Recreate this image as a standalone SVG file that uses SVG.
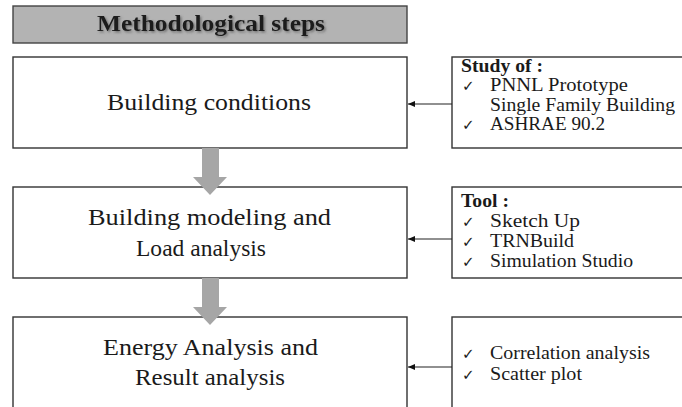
<svg xmlns="http://www.w3.org/2000/svg" width="682" height="407" viewBox="0 0 682 407">
<style>
.box{fill:#fff;stroke:#333;stroke-width:1.4}
.title{fill:#b3b3b3;stroke:#444;stroke-width:1.4}
.main{font-family:"Liberation Serif","DejaVu Serif",serif;font-size:23px;fill:#1a1a1a}
.side{font-family:"Liberation Serif","DejaVu Serif",serif;font-size:18.5px;fill:#1a1a1a}
.bold{font-weight:bold}
.chk{font-family:"DejaVu Sans",sans-serif;font-size:15px;fill:#1a1a1a}
.conn{stroke:#222;stroke-width:1.2;fill:none}
.block{fill:#a6a6a6}
</style>
<defs>
<marker id="ah" markerWidth="8" markerHeight="8" refX="7" refY="3" orient="auto" markerUnits="userSpaceOnUse">
<path d="M0,0 L7,3 L0,6 Z" fill="#111"/>
</marker>
<filter id="sh" x="-5%" y="-20%" width="110%" height="150%">
<feDropShadow dx="1.5" dy="1.5" stdDeviation="1" flood-color="#555" flood-opacity="0.7"/>
</filter>
</defs>

<g id="title">
<rect class="title" x="13" y="6" width="394" height="37"/>
<text class="main bold" x="211" y="31" text-anchor="middle" font-size="21" textLength="228" lengthAdjust="spacingAndGlyphs" filter="url(#sh)">Methodological steps</text>
</g>

<g id="step1">
<rect class="box" x="13" y="57" width="394" height="91"/>
<text class="main" x="107" y="110" textLength="204" lengthAdjust="spacingAndGlyphs">Building conditions</text>
</g>

<g id="step2">
<rect class="box" x="13" y="187" width="394" height="91"/>
<text class="main" x="88" y="225" textLength="243" lengthAdjust="spacingAndGlyphs">Building modeling and</text>
<text class="main" x="136" y="256" textLength="130" lengthAdjust="spacingAndGlyphs">Load analysis</text>
</g>

<g id="step3">
<rect class="box" x="13" y="317" width="394" height="100"/>
<text class="main" x="103" y="355" textLength="215" lengthAdjust="spacingAndGlyphs">Energy Analysis and</text>
<text class="main" x="135" y="385" textLength="150" lengthAdjust="spacingAndGlyphs">Result analysis</text>
</g>

<g id="info1">
<rect class="box" x="452" y="57" width="240" height="91"/>
<text class="side bold" x="461" y="72" textLength="82" lengthAdjust="spacingAndGlyphs">Study of :</text>
<text class="chk" x="462" y="91">✓</text>
<text class="side" x="490" y="91" textLength="138" lengthAdjust="spacingAndGlyphs">PNNL Prototype</text>
<text class="side" x="490" y="111" textLength="185" lengthAdjust="spacingAndGlyphs">Single Family Building</text>
<text class="chk" x="462" y="130">✓</text>
<text class="side" x="490" y="130" textLength="115" lengthAdjust="spacingAndGlyphs">ASHRAE 90.2</text>
</g>

<g id="info2">
<rect class="box" x="452" y="187" width="240" height="91"/>
<text class="side bold" x="461" y="207" textLength="48" lengthAdjust="spacingAndGlyphs">Tool :</text>
<text class="chk" x="462" y="227">✓</text>
<text class="side" x="490" y="227" textLength="90" lengthAdjust="spacingAndGlyphs">Sketch Up</text>
<text class="chk" x="462" y="247">✓</text>
<text class="side" x="490" y="247" textLength="84" lengthAdjust="spacingAndGlyphs">TRNBuild</text>
<text class="chk" x="462" y="267">✓</text>
<text class="side" x="490" y="267" textLength="143" lengthAdjust="spacingAndGlyphs">Simulation Studio</text>
</g>

<g id="info3">
<rect class="box" x="452" y="317" width="240" height="100"/>
<text class="chk" x="462" y="359">✓</text>
<text class="side" x="490" y="359" textLength="160" lengthAdjust="spacingAndGlyphs">Correlation analysis</text>
<text class="chk" x="462" y="380">✓</text>
<text class="side" x="490" y="380" textLength="92" lengthAdjust="spacingAndGlyphs">Scatter plot</text>
</g>

<g id="connectors">
<line class="conn" x1="452" y1="104" x2="408" y2="104" marker-end="url(#ah)"/>
<line class="conn" x1="452" y1="239" x2="408" y2="239" marker-end="url(#ah)"/>
<line class="conn" x1="452" y1="367" x2="408" y2="367" marker-end="url(#ah)"/>
<path class="block" d="M202,148 H219 V177 H227 L210,195 L193,177 H202 Z"/>
<path class="block" d="M202,278 H219 V307 H227 L210,325 L193,307 H202 Z"/>
</g>
</svg>
